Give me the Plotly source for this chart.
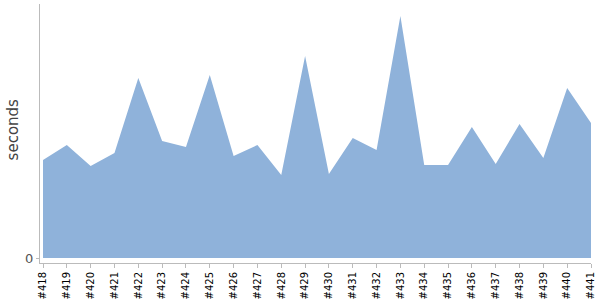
import plotly.graph_objects as go

builds = ["#418", "#419", "#420", "#421", "#422", "#423", "#424", "#425",
          "#426", "#427", "#428", "#429", "#430", "#431", "#432", "#433",
          "#434", "#435", "#436", "#437", "#438", "#439", "#440", "#441"]
seconds = [98, 113, 92, 105, 180, 117, 111, 183,
           102, 113, 83, 202, 84, 120, 108, 242,
           93, 93, 131, 94, 134, 100, 170, 135]
y_title = "seconds"

fig = go.Figure()
fig.add_trace(go.Scatter(
    x=list(range(len(builds))), y=seconds,
    mode="lines", line=dict(width=0, color="#8FB2DA"),
    fill="tozeroy", fillcolor="#8FB2DA",
    hoverinfo="skip", showlegend=False,
))

fig.update_layout(
    width=600, height=300,
    margin=dict(l=40, r=9, t=4, b=37),
    paper_bgcolor="white", plot_bgcolor="white",
    xaxis=dict(
        range=[-0.126, 23], tickmode="array",
        tickvals=list(range(len(builds))), ticktext=builds,
        tickangle=-90, showgrid=False, zeroline=False, automargin=False,
        showline=True, linecolor="#BBBBBB", linewidth=1,
        ticks="outside", ticklen=4, tickcolor="#BBBBBB",
        tickfont=dict(family="DejaVu Sans", size=10, color="#000000"),
    ),
    yaxis=dict(
        range=[-5, 254], tickmode="array", tickvals=[0], ticktext=["0"],
        showgrid=False, zeroline=False, automargin=False,
        showline=True, linecolor="#BBBBBB", linewidth=1,
        ticks="outside", ticklen=3, tickcolor="#BBBBBB",
        tickfont=dict(family="DejaVu Sans", size=13, color="#555555"),
    ),
    annotations=[dict(
        text=y_title, textangle=-90, showarrow=False,
        xref="paper", yref="paper", x=-0.049, y=0.512,
        xanchor="center", yanchor="middle",
        font=dict(family="DejaVu Sans", size=15, color="#444444"),
    )],
)

fig.write_html("out.html")
